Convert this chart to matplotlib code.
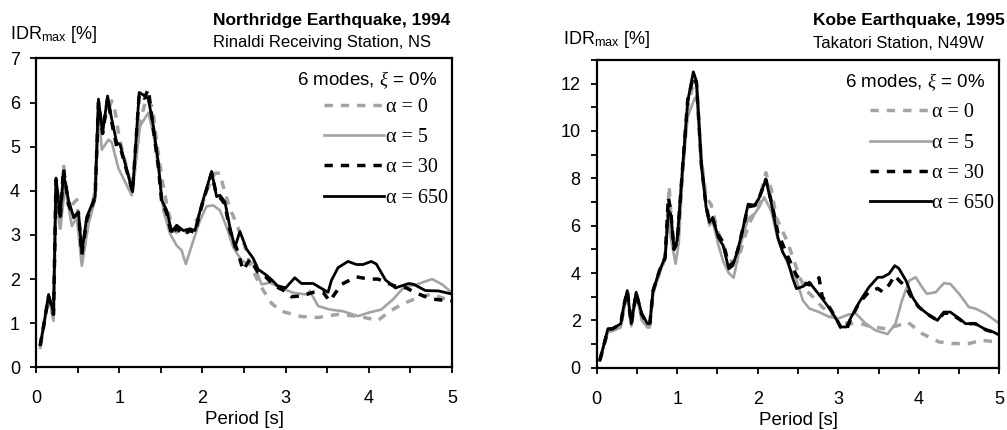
import matplotlib
matplotlib.use("Agg")
import matplotlib.pyplot as plt
from matplotlib.ticker import MultipleLocator, FuncFormatter

plt.rcParams["font.family"] = ["Liberation Sans", "DejaVu Sans"]
plt.rcParams["mathtext.fontset"] = "custom"
plt.rcParams["mathtext.rm"] = "Liberation Sans"
plt.rcParams["mathtext.it"] = "Liberation Serif:italic"

# ---- Northridge 1994, Rinaldi Receiving Station NS ----
t0_nr = [0.05, 0.09, 0.15, 0.18, 0.21, 0.24, 0.29, 0.33, 0.39, 0.49, 0.55, 0.63, 0.71, 0.75,
         0.80, 0.91, 0.95, 1.00, 1.16, 1.25, 1.33, 1.40, 1.45, 1.52, 1.58, 1.65, 1.75, 1.85,
         1.95, 2.05, 2.15, 2.21, 2.25, 2.33, 2.40, 2.50, 2.57, 2.69, 2.83, 2.95, 3.19, 3.39,
         3.63, 3.90, 4.11, 4.25, 4.41, 4.59, 4.75, 4.92, 5.00]
idr0_nr = [0.45, 0.90, 1.60, 1.35, 1.10, 4.20, 3.10, 4.60, 3.60, 3.80, 2.40, 3.30, 4.00, 5.90,
           5.50, 6.04, 5.80, 5.20, 4.00, 5.60, 6.10, 5.90, 5.10, 4.20, 3.60, 3.10, 3.00, 3.10,
           3.40, 4.00, 4.40, 4.40, 4.10, 3.60, 3.30, 2.80, 2.34, 1.87, 1.45, 1.27, 1.15, 1.13,
           1.20, 1.15, 1.06, 1.27, 1.44, 1.58, 1.66, 1.55, 1.60]

t5_nr = [0.05, 0.09, 0.15, 0.18, 0.21, 0.24, 0.29, 0.35, 0.43, 0.49, 0.55, 0.63, 0.71, 0.75,
         0.79, 0.87, 0.91, 0.99, 1.15, 1.25, 1.35, 1.41, 1.49, 1.53, 1.61, 1.69, 1.75, 1.80,
         1.89, 1.97, 2.05, 2.13, 2.21, 2.29, 2.37, 2.47, 2.55, 2.61, 2.71, 2.81, 2.93, 3.09,
         3.25, 3.29, 3.39, 3.53, 3.69, 3.87, 4.00, 4.15, 4.29, 4.42, 4.58, 4.76, 4.88, 5.00]
idr5_nr = [0.44, 0.88, 1.55, 1.35, 1.05, 4.10, 3.14, 4.10, 3.20, 3.40, 2.30, 3.25, 3.80, 5.85,
           4.93, 5.16, 5.10, 4.51, 3.90, 5.47, 5.77, 5.30, 4.25, 3.56, 3.03, 2.76, 2.65, 2.34,
           2.87, 3.33, 3.65, 3.67, 3.56, 3.18, 2.72, 2.42, 2.34, 2.38, 1.88, 1.92, 1.81, 1.69,
           1.65, 1.73, 1.39, 1.31, 1.27, 1.16, 1.24, 1.31, 1.54, 1.81, 1.88, 2.00, 1.88, 1.69]

t30_nr = [0.05, 0.09, 0.15, 0.18, 0.21, 0.24, 0.29, 0.33, 0.39, 0.45, 0.51, 0.55, 0.61, 0.71,
          0.75, 0.80, 0.86, 0.91, 0.97, 1.01, 1.16, 1.24, 1.30, 1.35, 1.41, 1.47, 1.51, 1.57,
          1.63, 1.69, 1.77, 1.85, 1.91, 1.99, 2.11, 2.17, 2.21, 2.27, 2.33, 2.41, 2.49, 2.57,
          2.67, 2.76, 2.87, 2.97, 3.07, 3.20, 3.33, 3.45, 3.53, 3.67, 3.85, 4.00, 4.11, 4.30,
          4.45, 4.56, 4.75, 5.00]
idr30_nr = [0.50, 0.93, 1.60, 1.40, 1.20, 4.25, 3.35, 4.50, 3.70, 3.40, 3.50, 2.55, 3.35, 3.85,
            6.00, 5.30, 6.10, 5.55, 5.00, 5.00, 3.98, 6.20, 6.10, 6.30, 5.40, 4.55, 3.75, 3.50,
            3.00, 3.15, 3.00, 3.10, 3.05, 3.65, 4.40, 3.90, 3.85, 3.70, 3.10, 2.70, 2.20, 2.45,
            2.15, 2.05, 1.84, 1.75, 1.60, 1.62, 1.70, 1.70, 1.50, 1.88, 2.05, 2.00, 2.00, 1.85,
            1.80, 1.69, 1.55, 1.50]

t650_nr = [0.05, 0.09, 0.15, 0.18, 0.21, 0.24, 0.29, 0.33, 0.39, 0.45, 0.51, 0.55, 0.61, 0.71,
           0.75, 0.80, 0.86, 0.91, 0.97, 1.01, 1.16, 1.24, 1.31, 1.35, 1.41, 1.47, 1.51, 1.57,
           1.63, 1.69, 1.77, 1.85, 1.91, 1.99, 2.11, 2.17, 2.21, 2.27, 2.33, 2.39, 2.45, 2.53,
           2.61, 2.67, 2.76, 2.84, 2.90, 3.00, 3.11, 3.19, 3.33, 3.51, 3.55, 3.63, 3.75, 3.85,
           3.93, 4.03, 4.09, 4.20, 4.32, 4.48, 4.54, 4.68, 4.84, 5.00]
idr650_nr = [0.51, 0.93, 1.65, 1.45, 1.23, 4.29, 3.41, 4.40, 3.79, 3.41, 3.52, 2.61, 3.41, 3.87,
             6.08, 5.31, 6.15, 5.62, 5.09, 5.05, 3.98, 6.23, 6.15, 6.08, 5.47, 4.63, 3.79, 3.56,
             3.07, 3.22, 3.10, 3.14, 3.10, 3.68, 4.44, 3.87, 3.90, 3.75, 3.18, 2.72, 3.08, 2.68,
             2.47, 2.22, 2.10, 1.97, 1.85, 1.80, 2.03, 1.90, 1.90, 1.70, 1.97, 2.26, 2.40, 2.33,
             2.33, 2.40, 2.34, 1.98, 1.80, 1.90, 1.88, 1.74, 1.73, 1.66]

# ---- Kobe 1995, Takatori Station N49W ----
t0_kb = [0.04, 0.14, 0.20, 0.30, 0.38, 0.43, 0.49, 0.56, 0.63, 0.66, 0.70, 0.78, 0.85, 0.90,
         0.93, 0.97, 1.00, 1.07, 1.13, 1.20, 1.24, 1.30, 1.36, 1.42, 1.50, 1.57, 1.64, 1.75,
         1.88, 2.00, 2.10, 2.17, 2.23, 2.37, 2.45, 2.52, 2.60, 2.69, 2.80, 2.97, 3.12, 3.28,
         3.42, 3.59, 3.75, 3.86, 4.04, 4.25, 4.41, 4.62, 4.78, 4.95, 5.00]
idr0_kb = [0.32, 1.55, 1.60, 1.80, 3.25, 1.80, 3.15, 2.20, 1.80, 1.80, 3.20, 4.00, 4.60, 7.67,
           6.00, 5.10, 5.40, 8.50, 11.00, 12.00, 11.80, 8.80, 7.20, 6.90, 5.80, 5.20, 4.50, 4.50,
           6.00, 6.80, 8.24, 7.50, 6.35, 5.30, 4.52, 3.82, 3.26, 2.98, 2.56, 2.08, 1.86, 1.86,
           1.72, 1.65, 1.79, 1.93, 1.44, 1.09, 1.02, 1.02, 1.16, 1.09, 1.10]

t5_kb = [0.04, 0.14, 0.20, 0.30, 0.38, 0.43, 0.49, 0.56, 0.63, 0.66, 0.70, 0.78, 0.85, 0.89,
         0.92, 0.98, 1.02, 1.07, 1.13, 1.22, 1.26, 1.30, 1.36, 1.40, 1.44, 1.51, 1.57, 1.64,
         1.70, 1.75, 1.81, 1.88, 1.96, 2.02, 2.08, 2.17, 2.25, 2.39, 2.47, 2.56, 2.64, 2.76,
         2.89, 3.00, 3.13, 3.22, 3.34, 3.46, 3.61, 3.71, 3.79, 3.88, 3.96, 4.04, 4.10, 4.21,
         4.31, 4.39, 4.50, 4.62, 4.70, 4.83, 5.00]
idr5_kb = [0.30, 1.50, 1.55, 1.70, 3.20, 1.75, 3.10, 2.00, 1.70, 1.70, 3.10, 4.00, 4.60, 6.30,
           5.50, 4.39, 5.30, 8.30, 10.60, 11.40, 11.20, 8.40, 6.70, 6.00, 6.20, 5.20, 4.50, 4.00,
           3.80, 4.60, 5.50, 6.30, 6.50, 6.80, 7.20, 6.60, 5.40, 4.24, 3.82, 2.84, 2.50, 2.35,
           2.14, 2.08, 2.25, 2.28, 1.86, 1.58, 1.42, 1.86, 2.84, 3.68, 3.82, 3.40, 3.12, 3.19,
           3.57, 3.54, 3.12, 2.56, 2.50, 2.28, 1.86]

t30_kb = [0.04, 0.14, 0.20, 0.30, 0.33, 0.38, 0.43, 0.49, 0.56, 0.63, 0.66, 0.70, 0.78, 0.85,
          0.89, 0.92, 0.96, 1.00, 1.07, 1.13, 1.20, 1.24, 1.30, 1.36, 1.40, 1.44, 1.51, 1.57,
          1.64, 1.69, 1.75, 1.81, 1.88, 1.96, 2.02, 2.10, 2.17, 2.25, 2.35, 2.48, 2.56, 2.64,
          2.72, 2.76, 2.80, 2.89, 2.97, 3.03, 3.10, 3.16, 3.26, 3.38, 3.49, 3.55, 3.63, 3.70,
          3.75, 3.84, 3.92, 4.00, 4.13, 4.23, 4.31, 4.39, 4.50, 4.58, 4.70, 4.83, 4.93, 5.00]
idr30_kb = [0.32, 1.60, 1.65, 1.85, 2.50, 3.25, 1.85, 3.15, 2.25, 1.85, 1.85, 3.25, 4.10, 4.66,
            7.20, 6.60, 5.00, 5.30, 8.60, 11.30, 12.30, 12.00, 8.60, 6.80, 6.20, 6.30, 5.60, 5.30,
            4.30, 4.40, 4.95, 5.80, 6.80, 6.85, 7.20, 7.95, 7.00, 5.70, 4.87, 3.90, 3.60, 3.50,
            3.60, 3.80, 3.00, 2.55, 2.10, 1.70, 1.60, 2.10, 2.75, 3.20, 3.35, 3.20, 3.50, 3.90,
            3.70, 3.40, 2.90, 2.56, 2.21, 2.00, 2.30, 2.30, 2.05, 1.86, 1.86, 1.60, 1.50, 1.37]

t650_kb = [0.04, 0.14, 0.20, 0.30, 0.33, 0.38, 0.43, 0.49, 0.56, 0.63, 0.66, 0.70, 0.78, 0.85,
           0.89, 0.92, 0.96, 1.00, 1.07, 1.13, 1.20, 1.24, 1.30, 1.36, 1.40, 1.44, 1.51, 1.57,
           1.64, 1.69, 1.75, 1.81, 1.88, 1.96, 2.02, 2.10, 2.17, 2.25, 2.31, 2.37, 2.43, 2.48,
           2.56, 2.64, 2.72, 2.80, 2.89, 2.97, 3.03, 3.10, 3.16, 3.26, 3.38, 3.49, 3.55, 3.63,
           3.70, 3.75, 3.84, 3.92, 4.00, 4.13, 4.23, 4.31, 4.39, 4.50, 4.58, 4.70, 4.83, 4.93, 5.00]
idr650_kb = [0.32, 1.65, 1.65, 1.86, 2.50, 3.26, 1.86, 3.19, 2.28, 1.86, 1.86, 3.26, 4.10, 4.66,
             6.63, 6.50, 5.02, 5.37, 8.59, 11.25, 12.50, 12.10, 8.59, 6.77, 6.14, 6.35, 5.50, 5.16,
             4.18, 4.31, 4.95, 5.79, 6.91, 6.86, 7.19, 7.96, 6.91, 5.50, 4.87, 4.53, 3.82, 3.34,
             3.43, 3.61, 3.26, 2.92, 2.50, 2.08, 1.72, 1.72, 2.14, 2.77, 3.40, 3.82, 3.82, 3.97,
             4.31, 4.20, 3.68, 2.98, 2.56, 2.21, 2.00, 2.35, 2.35, 2.08, 1.86, 1.86, 1.61, 1.50, 1.37]

alpha_labels = ["\u03b1 = 0", "\u03b1 = 5", "\u03b1 = 30", "\u03b1 = 650"]
legend_title = "6 modes, $\\xi$ = 0%"
x_label = "Period [s]"
y_label = "IDR$_{\\mathrm{max}}$ [%]"

GREY = "#a3a3a3"
styles = [
    dict(color=GREY, lw=2.5, ls=(0, (2.4, 2.3))),
    dict(color=GREY, lw=1.9, ls="-"),
    dict(color="black", lw=2.5, ls=(0, (2.4, 2.3))),
    dict(color="black", lw=2.0, ls="-"),
]

fig = plt.figure(figsize=(10.07, 4.30), dpi=100)
ax_l = fig.add_axes([0.0358, 0.1458, 0.4131, 0.7182])
ax_r = fig.add_axes([0.5925, 0.1449, 0.4000, 0.7156])

# (axes, series, y max, y tick step, y label step, legend title pos, legend anchor)
panels = [
    (ax_l, [(t0_nr, idr0_nr), (t5_nr, idr5_nr), (t30_nr, idr30_nr), (t650_nr, idr650_nr)],
     7, 1, 1, (0.964, 0.930), (0.990, 0.872)),
    (ax_r, [(t0_kb, idr0_kb), (t5_kb, idr5_kb), (t30_kb, idr30_kb), (t650_kb, idr650_kb)],
     13, 1, 2, (0.964, 0.929), (0.987, 0.859)),
]

for ax, series, ymax, ystep, ylab_step, title_xy, leg_anchor in panels:
    handles = []
    for (t, v), st, lab in zip(series, styles, alpha_labels):
        h, = ax.plot(t, v, label=lab, solid_joinstyle="round", dash_capstyle="butt", **st)
        handles.append(h)
    ax.set_xlim(0, 5)
    ax.set_ylim(0, ymax)
    ax.xaxis.set_major_locator(MultipleLocator(0.5))
    ax.xaxis.set_major_formatter(FuncFormatter(lambda x, p: f"{x:.0f}" if abs(x - round(x)) < 1e-6 else ""))
    ax.yaxis.set_major_locator(MultipleLocator(ystep))
    ax.yaxis.set_major_formatter(FuncFormatter(
        lambda y, p, s=ylab_step: f"{y:.0f}" if abs(y / s - round(y / s)) < 1e-6 else ""))
    ax.tick_params(direction="out", length=4.5, width=1.3, labelsize=13,
                   top=False, right=False)
    ax.tick_params(axis="x", pad=12)
    ax.tick_params(axis="y", pad=7)
    for sp in ax.spines.values():
        sp.set_linewidth(1.6)
    ax.set_xlabel(x_label, fontsize=13.5, labelpad=3)
    ax.text(title_xy[0], title_xy[1], legend_title, transform=ax.transAxes,
            ha="right", va="center", fontsize=13.5)
    ax.legend(handles=handles, loc="upper right", bbox_to_anchor=leg_anchor,
              frameon=False, prop={"family": "Liberation Serif", "size": 14.5},
              handlelength=3.0, handletextpad=0.08, labelspacing=0.55,
              borderpad=0, borderaxespad=0)

# panel headings
fig.text(0.2115, 0.953, "Northridge Earthquake, 1994", fontsize=12.5, fontweight="bold", va="center")
fig.text(0.2115, 0.902, "Rinaldi Receiving Station, NS", fontsize=12, va="center")
fig.text(0.0095, 0.919, y_label, fontsize=13, va="center")

fig.text(0.8073, 0.953, "Kobe Earthquake, 1995", fontsize=12.5, fontweight="bold", va="center")
fig.text(0.8073, 0.900, "Takatori Station, N49W", fontsize=12, va="center")
fig.text(0.559, 0.907, y_label, fontsize=13, va="center")

fig.savefig("out.png", dpi=100)
